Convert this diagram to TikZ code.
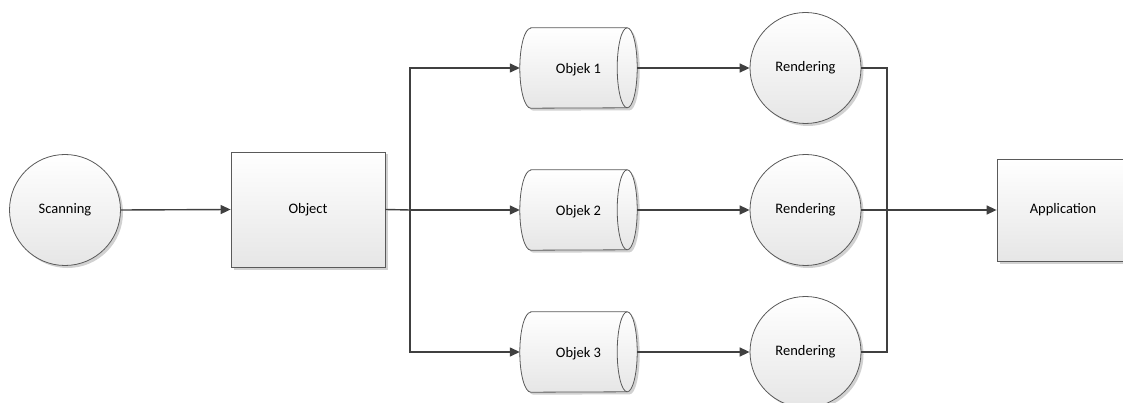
\documentclass[tikz,border=0pt]{standalone}
\usepackage{fontspec}
\setmainfont{Carlito}
\usetikzlibrary{shapes.geometric,arrows.meta,shadows,backgrounds}
\definecolor{linec}{HTML}{404040}
\definecolor{borderc}{HTML}{5A5A5A}
\definecolor{fillbot}{HTML}{E6E6E6}
\tikzset{
  look/.style={draw=borderc, line width=0.8pt, top color=white, bottom color=fillbot,
    drop shadow={shadow xshift=2.5pt, shadow yshift=-2.5pt, opacity=0.18, fill=black}},
  base/.style={look, font=\fontsize{14.5}{17}\selectfont, text=black, inner sep=0pt},
  circ/.style={base, circle, minimum size=111pt},
  boxnode/.style={base, rectangle},
  cyl/.style={rectangle, font=\fontsize{14.5}{17}\selectfont, text=black, inner sep=0pt,
    minimum width=117pt, minimum height=80pt, text depth=0pt},
  conn/.style={draw=linec, line width=1.4pt},
  arr/.style={conn, -{Triangle[length=10pt,width=9pt]}},
}
\newcommand{\cylshape}[1]{%
  \path[look] ([xshift=11pt]#1.north west) -- ([xshift=-10pt]#1.north east)
     arc[start angle=90, end angle=-90, x radius=10pt, y radius=40pt]
     -- ([xshift=11pt]#1.south west)
     arc[start angle=270, end angle=90, x radius=11pt, y radius=40pt] -- cycle;
  \draw[draw=borderc, line width=0.8pt] ([xshift=-10pt]#1.north east)
     arc[start angle=90, end angle=270, x radius=10pt, y radius=40pt];
}
\begin{document}
\begin{tikzpicture}[x=1pt,y=-1pt]
\useasboundingbox (0,0) rectangle (1123,403);
\clip (0,0) rectangle (1123,403);
\node[circ] (scan) at (65,210) {Scanning};
\node[boxnode, minimum width=154pt, minimum height=115pt] (obj) at (308,209.5) {Object};
\node[cyl] (o1) at (578.5,68) {Objek 1};
\node[cyl] (o2) at (578.5,210) {Objek 2};
\node[cyl] (o3) at (578.5,352) {Objek 3};
\begin{scope}[on background layer]
\cylshape{o1}
\cylshape{o2}
\cylshape{o3}
\end{scope}
\node[circ] (r1) at (805.5,68) {Rendering};
\node[circ] (r2) at (805.5,210) {Rendering};
\node[circ] (r3) at (805.5,352) {Rendering};
\node[boxnode, minimum width=132pt, minimum height=102pt] (app) at (1063,210) {Application};
\coordinate (split) at (410,210);
\coordinate (join) at (887,210);
\draw[arr] (scan.east) -- (obj.west);
\draw[conn] (obj.east) -- (split);
\draw[arr] (split) -- (o2.west);
\draw[arr] (split) |- (o1.west);
\draw[arr] (split) |- (o3.west);
\draw[arr] (o1.east) -- (r1.west);
\draw[arr] (o2.east) -- (r2.west);
\draw[arr] (o3.east) -- (r3.west);
\draw[conn] (r1.east) -| (join);
\draw[conn] (r3.east) -| (join);
\draw[arr] (r2.east) -- (app.west);
\end{tikzpicture}
\end{document}
